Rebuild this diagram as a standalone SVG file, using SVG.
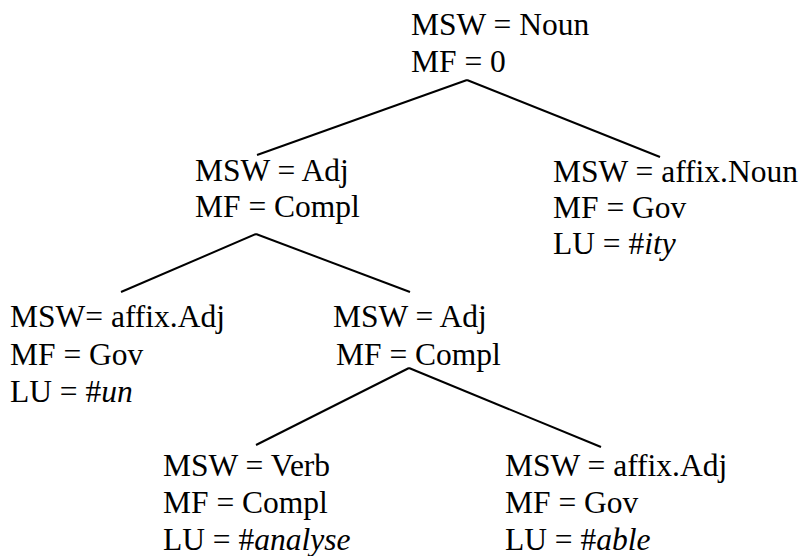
<svg xmlns="http://www.w3.org/2000/svg" width="803" height="556" viewBox="0 0 803 556">
<style>
.t{font-family:'Liberation Serif', 'Times New Roman', serif;font-size:31.5px;fill:#000}
.i{font-style:italic}
.c line{stroke:#000;stroke-width:2}
</style>
<rect width="803" height="556" fill="#fff"/>
<g id="connectors" class="c">
<line x1="467" y1="80" x2="257" y2="155"/>
<line x1="467" y1="80" x2="660" y2="157"/>
<line x1="256" y1="234" x2="121" y2="292"/>
<line x1="256" y1="234" x2="410" y2="292"/>
<line x1="409" y1="368" x2="256" y2="445"/>
<line x1="409" y1="368" x2="601" y2="447"/>
</g>
<g id="n-root" class="t">
<text x="411" y="35">MSW = Noun</text>
<text x="411" y="72">MF = 0</text>
</g>
<g id="n-adj1" class="t">
<text x="195" y="181">MSW = Adj</text>
<text x="195" y="217">MF = Compl</text>
</g>
<g id="n-ity" class="t">
<text x="553" y="182">MSW = affix.Noun</text>
<text x="553" y="218">MF = Gov</text>
<text x="553" y="254">LU = #<tspan class="i">ity</tspan></text>
</g>
<g id="n-un" class="t">
<text x="10" y="327">MSW= affix.Adj</text>
<text x="10" y="365">MF = Gov</text>
<text x="10" y="402">LU = #<tspan class="i">un</tspan></text>
</g>
<g id="n-adj2" class="t">
<text x="333" y="327">MSW = Adj</text>
<text x="336" y="365">MF = Compl</text>
</g>
<g id="n-verb" class="t">
<text x="163" y="476">MSW = Verb</text>
<text x="163" y="513">MF = Compl</text>
<text x="163" y="550">LU = #<tspan class="i">analyse</tspan></text>
</g>
<g id="n-able" class="t">
<text x="505" y="476">MSW = affix.Adj</text>
<text x="505" y="513">MF = Gov</text>
<text x="505" y="550">LU = #<tspan class="i">able</tspan></text>
</g>
</svg>
